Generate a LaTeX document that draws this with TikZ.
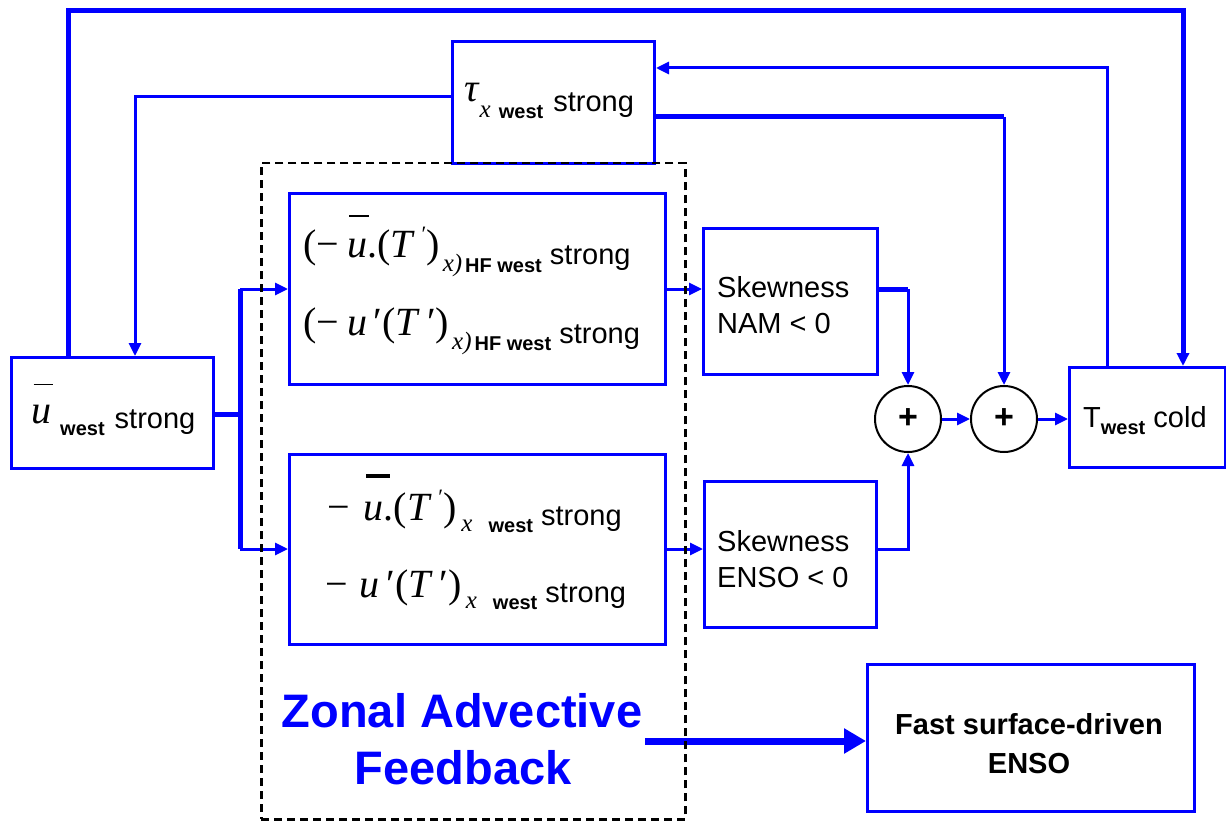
\documentclass[tikz,border=0pt]{standalone}
\usepackage{fontspec}
\setmainfont{Liberation Sans}
\newfontfamily\tmr{Liberation Serif}
\usetikzlibrary{arrows.meta}
\definecolor{fb}{RGB}{0,0,255}
\newcommand\sz{\fontsize{29}{35}\selectfont}
\newcommand\M{\fontsize{40}{46}\selectfont\tmr}
\newcommand\sbb[1]{\raisebox{-7pt}{\fontsize{20}{24}\selectfont\bfseries #1}}
\newcommand\sbx[1]{\raisebox{-6pt}{\fontsize{25}{28}\selectfont\tmr\itshape #1}}
\newcommand\ubr[3]{\rlap{\hspace{0.06em}\rule[#2]{#3}{#1}}\textit{u}}
\newcommand\smp{\raisebox{0.4em}{\fontsize{22}{22}\selectfont ′}}
\begin{document}
\begin{tikzpicture}[x=1pt,y=-1pt,
  box/.style={draw=fb, line width=3pt, fill=white, inner sep=0pt, anchor=north west},
  thn/.style={draw=fb, line width=3pt},
  thk/.style={draw=fb, line width=5pt},
  arr/.style={-{Triangle[length=13pt,width=12pt]}},
  pl/.style={circle, draw=black, line width=2pt, fill=white, minimum size=66pt, inner sep=0pt, font=\bfseries\fontsize{34}{34}\selectfont},
  txt/.style={anchor=base west, inner sep=0pt, font=\sz}]
\useasboundingbox (0,0) rectangle (1226,821);
% boxes
\node[box, minimum width=202pt, minimum height=111pt] (ub) at (10,356) {};
\node[box, minimum width=202pt, minimum height=122pt] (tau) at (451,40) {};
\node[box, minimum width=376pt, minimum height=191pt] (hf) at (288,192) {};
\node[box, minimum width=376pt, minimum height=190pt] (lf) at (288,453) {};
\node[box, minimum width=174pt, minimum height=146pt] (nam) at (702,227) {};
\node[box, minimum width=172pt, minimum height=146pt] (enso) at (703,480) {};
\node[box, minimum width=156pt, minimum height=100pt] (tw) at (1068,366) {};
\node[box, minimum width=327pt, minimum height=147pt] (fast) at (866,663) {};
\node[pl] (p1) at (908,419) {+};
\node[pl] (p2) at (1004,419) {+};
% texts
\node[txt] (tub) at (31,428) {\raisebox{5pt}{\M\ubr{1.5pt}{0.95em}{0.48em}}\hspace{9pt}\sbb{west}\hspace{2pt} strong};
\node[txt] (ttau) at (464,112) {\raisebox{10pt}{\M\textit{τ}}\sbx{x}\hspace{8pt}\sbb{west}\hspace{2pt} strong};
\node[txt] (thf1) at (303,265) {\raisebox{8pt}{\M(−\hspace{8pt}\ubr{1.5pt}{1.0em}{0.5em}.(\textit{T}\,\smp)}\hspace{3pt}\sbx{x)}\hspace{3pt}\sbb{HF west} strong};
\node[txt] (thf2) at (303,343) {\raisebox{8pt}{\M(−\hspace{8pt}\textit{u}\,′(\textit{T}\,′)}\hspace{3pt}\sbx{x)}\hspace{3pt}\sbb{HF west} strong};
\node[txt] (tlf1) at (327,525) {\raisebox{5pt}{\M−\hspace{14pt}\ubr{4pt}{1.05em}{0.6em}.(\textit{T}\,\smp)}\hspace{5pt}\sbx{x}\hspace{16pt}\sbb{west} strong};
\node[txt] (tlf2) at (325,602) {\raisebox{5pt}{\M−\hspace{12pt}\textit{u}\,′(\textit{T}\,′)}\hspace{4pt}\sbx{x}\hspace{16pt}\sbb{west} strong};
\node[txt] (tn1) at (717,297) {Skewness};
\node[txt] (tn2) at (717,333) {NAM < 0};
\node[txt] (te1) at (717,551) {Skewness};
\node[txt] (te2) at (717,587) {ENSO < 0};
\node[txt] (ttw) at (1083,427) {T\sbb{west} cold};
\node[anchor=base, inner sep=0pt, font=\bfseries\sz] (tf1) at (1029,734) {Fast surface-driven};
\node[anchor=base, inner sep=0pt, font=\bfseries\sz] (tf2) at (1029,773) {ENSO};
\node[anchor=base, inner sep=0pt, text=fb, font=\bfseries\fontsize{47}{56}\selectfont] (z1) at (462,727) {Zonal Advective};
\node[anchor=base, inner sep=0pt, text=fb, font=\bfseries\fontsize{47}{56}\selectfont] (z2) at (463,784) {Feedback};
% connectors
\coordinate (k1) at (68,11);
\coordinate (k2) at (1183,11);
\draw[thk,arr] (k1 |- ub.north) -- (k1) -- (k2) -- (k2 |- tw.north);
\coordinate (k3) at (1107,68);
\draw[thn,arr] (k3 |- tw.north) -- (k3) -- (k3 -| tau.east);
\coordinate (k4) at (1004,117);
\draw[thk] (k4 -| tau.east) -- (k4);
\draw[thn,arr] (k4) -- (p2);
\coordinate (k5) at (135,97);
\draw[thn,arr] (k5 -| tau.west) -- (k5) -- (k5 |- ub.north);
\coordinate (k6) at (240,414);
\coordinate (k6a) at (240,289);
\coordinate (k6b) at (240,549);
\draw[thk] (k6 -| ub.east) -- (k6);
\draw[thk] (k6a) -- (k6b);
\draw[thn,arr] (k6a) -- (k6a -| hf.west);
\draw[thn,arr] (k6b) -- (k6b -| lf.west);
\draw[thn,arr] (k6a -| hf.east) -- (k6a -| nam.west);
\draw[thn,arr] (k6b -| lf.east) -- (k6b -| enso.west);
\coordinate (k8) at (908,289);
\draw[thk] (k8 -| nam.east) -- (k8);
\draw[thn,arr] (k8) -- (p1);
\coordinate (k9) at (908,549);
\draw[thn,arr] (k9 -| enso.east) -- (k9) -- (p1);
\draw[thn,arr] (p1) -- (p2);
\draw[thn,arr] (p2) -- (p2 -| tw.west);
\coordinate (za) at (645,741);
\draw[draw=fb, line width=7pt, -{Triangle[length=22pt,width=24pt]}] (za) -- (za -| fast.west);
% dashed zone
\node[draw=black, line width=2.5pt, dash pattern=on 8pt off 5pt, inner sep=0pt, anchor=north west, minimum width=424pt, minimum height=656pt] (zone) at (260,162) {};
\end{tikzpicture}
\end{document}
